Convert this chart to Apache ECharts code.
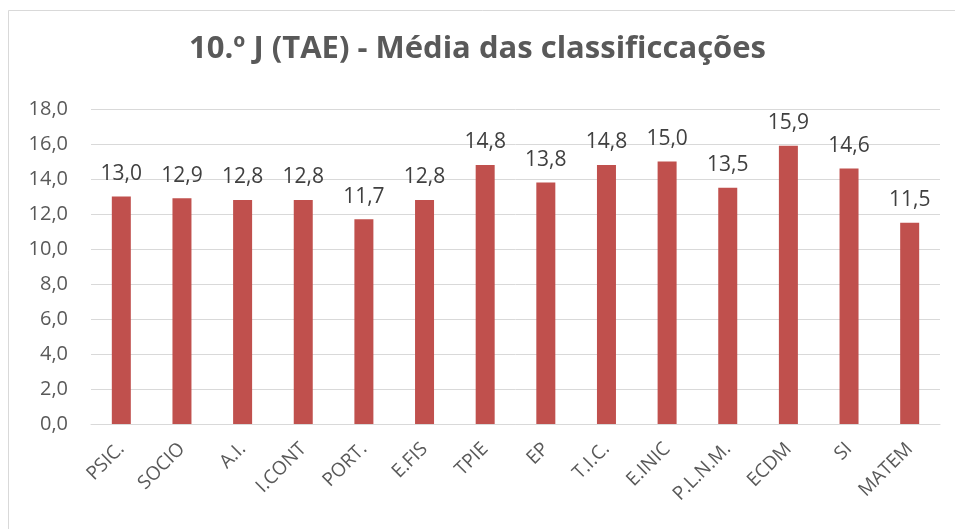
<!DOCTYPE html>
<html>
<head>
<meta charset="utf-8">
<script src="https://cdn.jsdelivr.net/npm/echarts@6/dist/echarts.min.js"></script>
<style>
html,body{margin:0;padding:0;background:#fff;}
#chart{width:955px;height:529px;}
</style>
</head>
<body>
<div id="chart"></div>
<script>
const titleText = '10.º J (TAE) - Média das classificcações';
const categories = ['PSIC.','SOCIO','A.I.','I.CONT','PORT.','E.FIS','TPIE','EP','T.I.C.','E.INIC','P.L.N.M.','ECDM','SI','MATEM'];
const values = [13.0,12.9,12.8,12.8,11.7,12.8,14.8,13.8,14.8,15.0,13.5,15.9,14.6,11.5];
const yMin = 0, yMax = 18, yStep = 2;

const fontFam = '"Open Sans", "Noto Sans", sans-serif';
const fmt = v => Number(v).toFixed(1).replace('.', ',');

const chart = echarts.init(document.getElementById('chart'), null, {renderer:'canvas'});
chart.setOption({
  animation: false,
  backgroundColor: '#ffffff',
  graphic: [{
    type: 'rect',
    shape: {x: 8.5, y: 10.5, width: 1000, height: 600},
    style: {fill: 'none', stroke: '#d9d9d9', lineWidth: 1},
    silent: true
  }],
  title: {
    text: titleText,
    left: 'center',
    top: 29,
    textStyle: {fontFamily: fontFam, fontSize: 31, fontWeight: 'bold', color: '#595959'}
  },
  grid: {left: 91, right: 15, top: 109, bottom: 105, containLabel: false},
  xAxis: {
    type: 'category',
    data: categories,
    axisLine: {show: true, lineStyle: {color: '#d9d9d9', width: 1}},
    axisTick: {show: false},
    axisLabel: {
      rotate: 45,
      interval: 0,
      margin: 22,
      fontFamily: fontFam,
      fontSize: 19,
      color: '#595959'
    }
  },
  yAxis: {
    type: 'value',
    min: yMin, max: yMax, interval: yStep,
    axisLine: {show: false},
    axisTick: {show: false},
    splitLine: {lineStyle: {color: '#d9d9d9', width: 1}},
    axisLabel: {
      margin: 23,
      fontFamily: fontFam,
      fontSize: 20,
      color: '#595959',
      formatter: v => fmt(v)
    }
  },
  series: [{
    type: 'bar',
    data: values,
    barWidth: 19,
    itemStyle: {color: '#C0504D'},
    label: {
      show: true,
      position: 'top',
      distance: 12,
      fontFamily: fontFam,
      fontSize: 21,
      color: '#404040',
      formatter: p => fmt(p.value)
    }
  }]
});
</script>
</body>
</html>
